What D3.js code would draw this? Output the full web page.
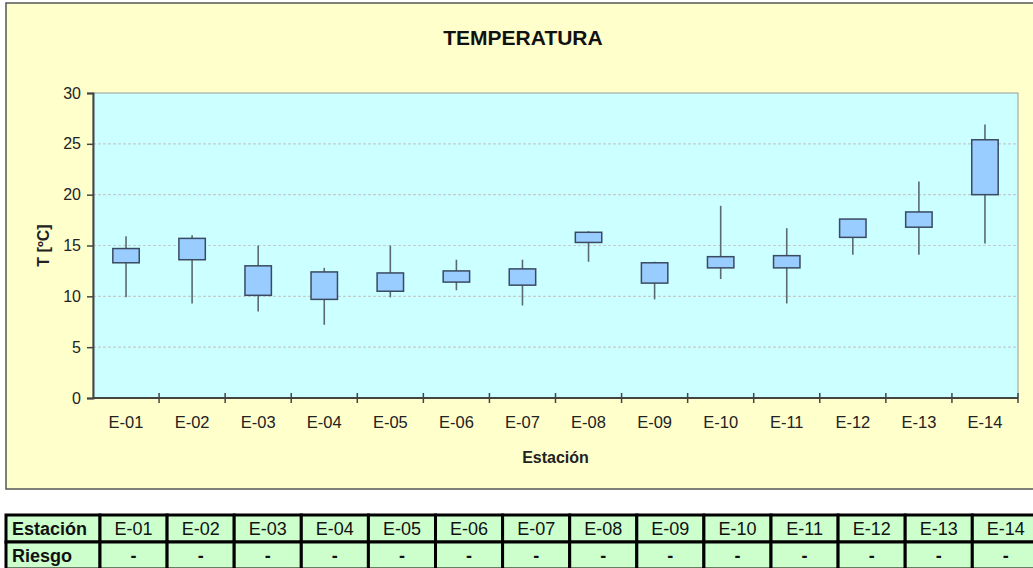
<!DOCTYPE html>
<html>
<head>
<meta charset="utf-8">
<script src="https://cdn.jsdelivr.net/npm/d3@7"></script>
<style>
  html, body { margin: 0; padding: 0; background: #fff; }
  svg { display: block; font-family: "Liberation Sans", Arial, sans-serif; }
</style>
</head>
<body>
<svg id="chart" width="1033" height="568"></svg>
<script>
// ── Temperatura por estación ────────────────────────────────────────────────
const STATIONS = ['E-01', 'E-02', 'E-03', 'E-04', 'E-05', 'E-06', 'E-07',
                  'E-08', 'E-09', 'E-10', 'E-11', 'E-12', 'E-13', 'E-14'];
// whisker low / box low / box high / whisker high  (°C)
const T_MIN  = [9.9, 9.3, 8.5, 7.2, 9.9, 10.6, 9.1, 13.4, 9.7, 11.7, 9.3, 14.1, 14.1, 15.2];
const T_LOW  = [13.3, 13.6, 10.1, 9.7, 10.5, 11.4, 11.1, 15.3, 11.3, 12.8, 12.8, 15.8, 16.8, 20.0];
const T_HIGH = [14.7, 15.7, 13.0, 12.4, 12.3, 12.5, 12.7, 16.3, 13.3, 13.9, 14.0, 17.6, 18.3, 25.4];
const T_MAX  = [15.9, 16.0, 15.0, 12.8, 15.0, 13.6, 13.6, 16.4, 13.4, 18.9, 16.7, 17.6, 21.3, 26.9];
const Y_TICKS = [0, 5, 10, 15, 20, 25, 30];
const RIESGO = ['-', '-', '-', '-', '-', '-', '-', '-', '-', '-', '-', '-', '-', '-'];

(function () {
    'use strict';

    const svg = d3.select('#chart');
    const plot = { left: 93, right: 1018, top: 93, bottom: 398 };

    // chart frame
    svg.append('rect')
        .attr('x', 6).attr('y', 3).attr('width', 1040).attr('height', 486)
        .attr('fill', '#FFFFCC').attr('stroke', '#555').attr('stroke-width', 1.5);

    const x = d3.scaleBand().domain(STATIONS).range([plot.left, plot.right]).padding(0);
    const y = d3.scaleLinear().domain([0, 30]).range([plot.bottom, plot.top]);

    // plot area
    svg.append('rect')
        .attr('x', plot.left).attr('y', plot.top)
        .attr('width', plot.right - plot.left).attr('height', plot.bottom - plot.top)
        .attr('fill', '#CCFFFF').attr('stroke', '#999').attr('stroke-width', 1);

    // grid
    svg.append('g').selectAll('line')
        .data(Y_TICKS.filter(function (d) { return d > 0 && d < 30; }))
        .enter().append('line')
        .attr('x1', plot.left).attr('x2', plot.right)
        .attr('y1', function (d) { return y(d); }).attr('y2', function (d) { return y(d); })
        .attr('stroke', '#c4cccc').attr('stroke-width', 1.2)
        .attr('stroke-dasharray', '3,2');

    // y axis
    const yAxis = svg.append('g')
        .attr('transform', 'translate(' + plot.left + ',0)')
        .call(d3.axisLeft(y).tickValues(Y_TICKS).tickSize(6).tickPadding(6));
    yAxis.select('.domain').attr('stroke', '#444').attr('stroke-width', 2);
    yAxis.selectAll('.tick line').attr('stroke', '#444').attr('stroke-width', 1.5);
    yAxis.selectAll('.tick text')
        .attr('font-size', 16).attr('fill', '#222')
        .attr('font-family', '"Liberation Sans", Arial, sans-serif');

    // x axis line + ticks at band edges
    svg.append('line')
        .attr('x1', plot.left).attr('x2', plot.right)
        .attr('y1', plot.bottom).attr('y2', plot.bottom)
        .attr('stroke', '#444').attr('stroke-width', 2);
    svg.append('g').selectAll('line')
        .data(STATIONS)
        .enter().append('line')
        .attr('x1', function (d) { return x(d) + x.bandwidth(); })
        .attr('x2', function (d) { return x(d) + x.bandwidth(); })
        .attr('y1', plot.bottom - 5).attr('y2', plot.bottom + 5)
        .attr('stroke', '#444').attr('stroke-width', 1.5);

    svg.append('g').selectAll('text')
        .data(STATIONS)
        .enter().append('text')
        .attr('x', function (d) { return x(d) + x.bandwidth() / 2; })
        .attr('y', 428)
        .attr('text-anchor', 'middle')
        .attr('font-size', 16.5).attr('fill', '#222')
        .text(function (d) { return d; });

    // whiskers + boxes
    const bw = x.bandwidth() * 0.4;
    const g = svg.append('g');
    g.selectAll('line.whisker')
        .data(STATIONS)
        .enter().append('line')
        .attr('class', 'whisker')
        .attr('x1', function (d) { return x(d) + x.bandwidth() / 2; })
        .attr('x2', function (d) { return x(d) + x.bandwidth() / 2; })
        .attr('y1', function (d, i) { return y(T_MIN[i]); })
        .attr('y2', function (d, i) { return y(T_MAX[i]); })
        .attr('stroke', '#5a6a70').attr('stroke-width', 1.6);
    g.selectAll('rect.box')
        .data(STATIONS)
        .enter().append('rect')
        .attr('class', 'box')
        .attr('x', function (d) { return x(d) + (x.bandwidth() - bw) / 2; })
        .attr('y', function (d, i) { return y(T_HIGH[i]); })
        .attr('width', bw)
        .attr('height', function (d, i) { return y(T_LOW[i]) - y(T_HIGH[i]); })
        .attr('fill', '#99CCFF').attr('stroke', '#3a4a60').attr('stroke-width', 1.5);

    // titles
    svg.append('text')
        .attr('x', 523).attr('y', 45)
        .attr('text-anchor', 'middle')
        .attr('font-size', 21).attr('font-weight', 'bold').attr('fill', '#111')
        .text('TEMPERATURA');
    svg.append('text')
        .attr('x', (plot.left + plot.right) / 2).attr('y', 463)
        .attr('text-anchor', 'middle')
        .attr('font-size', 16).attr('font-weight', 'bold').attr('fill', '#222')
        .text('Estación');
    svg.append('text')
        .attr('transform', 'translate(49,' + ((plot.top + plot.bottom) / 2) + ') rotate(-90)')
        .attr('text-anchor', 'middle')
        .attr('font-size', 16).attr('font-weight', 'bold').attr('fill', '#222')
        .text('T [ºC]');

    // ── risk table ──
    const tbl = { left: 6, first: 100, col: 67.1, top: 515, rowH: 27 };
    const rows = [
        { head: 'Estación', cells: STATIONS, bold: false },
        { head: 'Riesgo', cells: RIESGO, bold: true }
    ];
    const tg = svg.append('g');
    rows.forEach(function (row, r) {
        const ry = tbl.top + r * tbl.rowH;
        const cells = [{ x: tbl.left, w: tbl.first - tbl.left, t: row.head, head: true }]
            .concat(row.cells.map(function (c, i) {
                return { x: tbl.first + i * tbl.col, w: tbl.col, t: c, head: false };
            }));
        const cg = tg.selectAll(null).data(cells).enter().append('g');
        cg.append('rect')
            .attr('x', function (d) { return d.x; }).attr('y', ry)
            .attr('width', function (d) { return d.w; }).attr('height', tbl.rowH)
            .attr('fill', '#CCFFCC').attr('stroke', '#000').attr('stroke-width', 3);
        cg.append('text')
            .attr('x', function (d) { return d.head ? d.x + 6 : d.x + d.w / 2; })
            .attr('y', ry + 20)
            .attr('text-anchor', function (d) { return d.head ? 'start' : 'middle'; })
            .attr('font-size', 18)
            .attr('font-weight', function (d) { return d.head || row.bold ? 'bold' : 'normal'; })
            .attr('fill', '#111')
            .text(function (d) { return d.t; });
    });
})();
</script>
</body>
</html>
